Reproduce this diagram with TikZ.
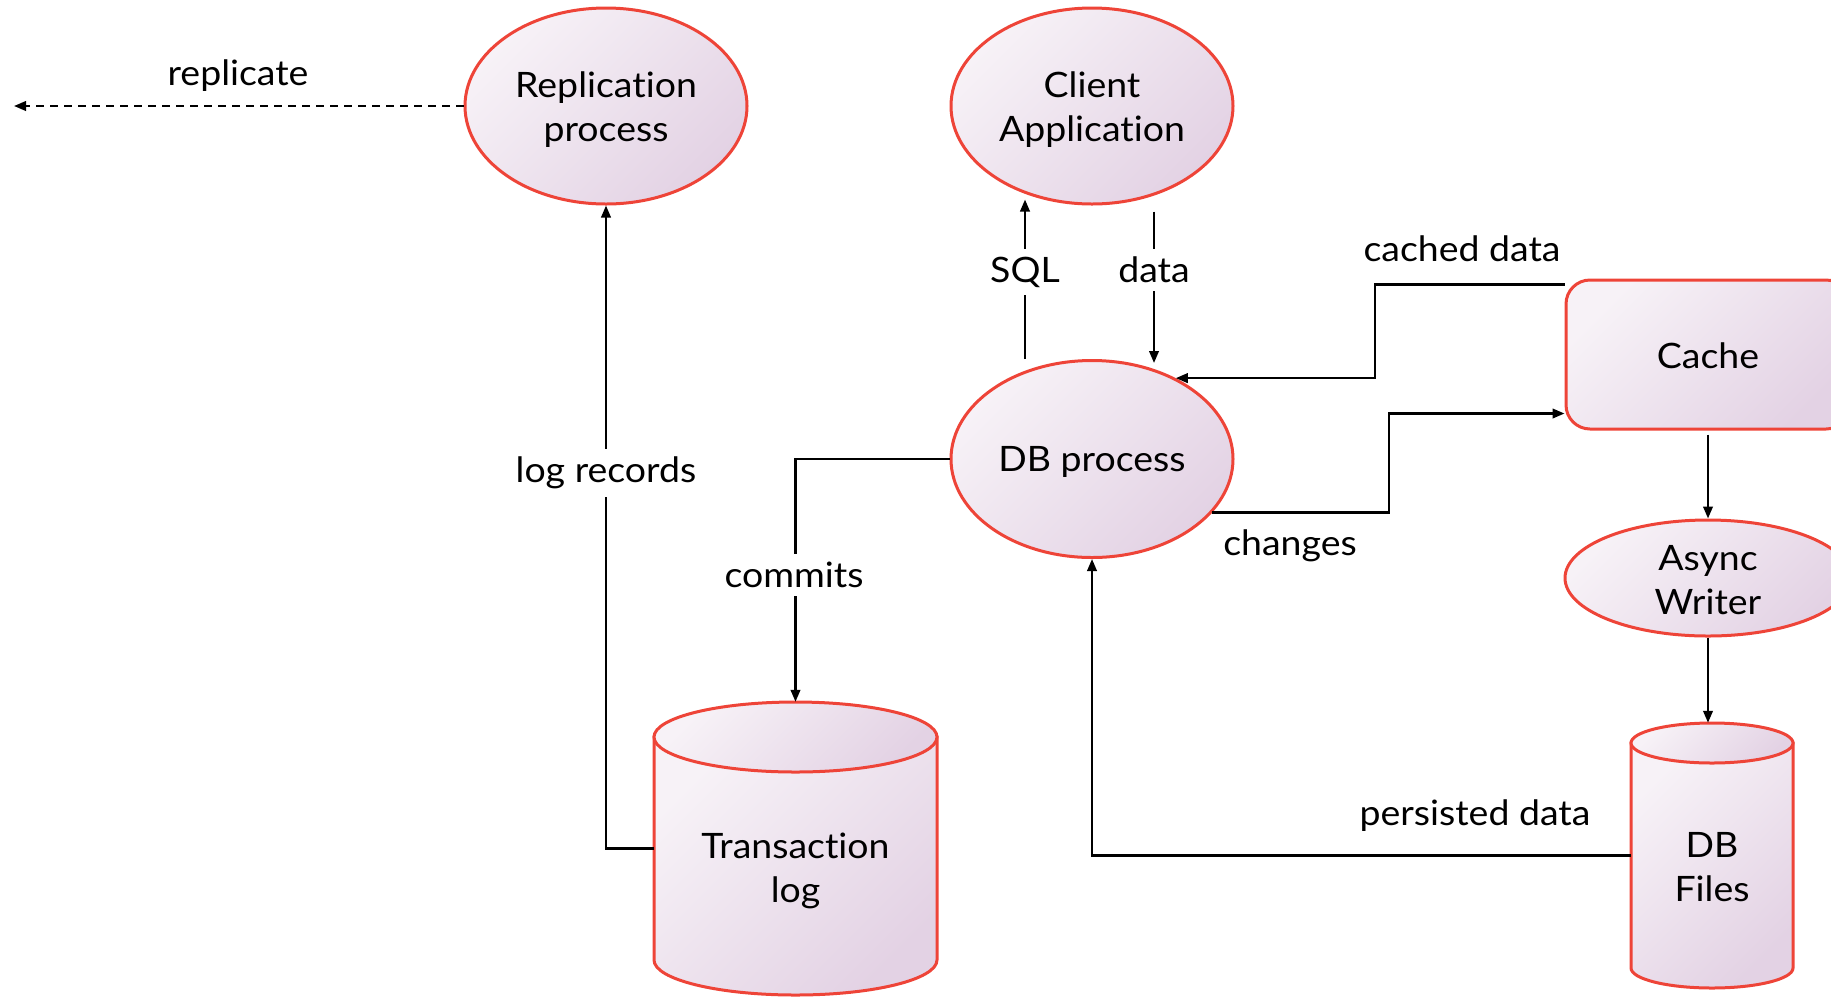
\documentclass[tikz,border=0pt]{standalone}
\usepackage{fontspec}
\setmainfont{Lato}[FakeStretch=1.07, Ligatures=NoCommon]
\usetikzlibrary{shapes.geometric,arrows.meta,calc}
\definecolor{edgered}{RGB}{238,68,56}
\definecolor{filllight}{RGB}{247,242,247}
\definecolor{filldark}{RGB}{227,210,228}
\begin{document}
\begin{tikzpicture}[x=1pt,y=-1pt,
  every node/.style={font=\fontsize{35}{44}\selectfont, text=black},
  shadefill/.style={top color=filllight, bottom color=filldark, shading angle=45},
  proc/.style={ellipse, draw=edgered, line width=3pt, shadefill, inner sep=0pt},
  store/.style={draw=edgered, line width=3pt, shadefill},
  bound/.style={inner sep=0pt, draw=none},
  conn/.style={line width=2.3pt, draw=black},
  arr/.style={conn, -{Triangle[length=12pt,width=9.5pt]}},
  lbl/.style={inner sep=0pt, align=center},
  onlbl/.style={fill=white, inner xsep=2pt, inner ysep=8pt}
]
\useasboundingbox (0,0) rectangle (1831,997);
\clip (0,0) rectangle (1831,997);

% processes and the cache box
\node[proc, minimum width=282pt, minimum height=196pt] (rep) at (606,106) {};
\node[lbl] (reptext) at (606,110) {Replication\\process};
\node[proc, minimum width=282pt, minimum height=196pt] (client) at (1092,106) {};
\node[lbl] (clienttext) at (1092,110) {Client\\Application};
\node[proc, minimum width=282pt, minimum height=197pt] (db) at (1092,459) {};
\node[lbl] (dbtext) at (1092,462) {DB process};
\node[draw=edgered, line width=3pt, shadefill, rounded corners=24pt, minimum width=284pt, minimum height=149pt, inner sep=0pt] (cache) at (1708,354.5) {};
\node[lbl] (cachetext) at (1708,356) {Cache};
\node[proc, minimum width=286pt, minimum height=116pt] (async) at (1708,578) {};
\node[lbl] (asynctext) at (1708,580) {Async\\Writer};

% transaction log cylinder
\path[store] (654,737) -- (654,960) arc[start angle=180, end angle=0, x radius=141.5, y radius=35] -- (937,737) -- cycle;
\path[store] (795.5,737) ellipse [x radius=141.5, y radius=35];
\node[bound, minimum width=283pt, minimum height=293pt] (tlog) at (795.5,848.5) {};
\node[lbl] (tlogtext) at (795.5,871) {Transaction\\log};

% database files cylinder
\path[store] (1631,743) -- (1631,968) arc[start angle=180, end angle=0, x radius=81, y radius=20] -- (1793,743) -- cycle;
\path[store] (1712,743) ellipse [x radius=81, y radius=20];
\node[bound, minimum width=162pt, minimum height=265pt] (dbf) at (1712,855.5) {};
\node[lbl] (dbftext) at (1712,867) {DB\\Files};

% bend points and free ends
\coordinate (repl) at (14,106);
\coordinate (cdbend) at (1375,0);
\coordinate (chbend) at (1389,0);
\coordinate (cacheA) at ($(cache.north west)+(0,6)$);
\coordinate (cacheB) at ($(cache.south west)+(0,-17)$);
\coordinate (sqlA) at ($(db.north)+(-67,0)$);
\coordinate (sqlB) at ($(client.south)+(-67,-6)$);
\coordinate (dataA) at ($(client.south)+(62,6)$);
\coordinate (dataB) at ($(db.north)+(62,4)$);

% connectors
\draw[arr, dash pattern=on 8pt off 6pt] (rep.west) -- (repl);
\draw[arr] (tlog.west) -| (rep.south);
\draw[arr] (db.west) -| (tlog.north);
\draw[arr] (sqlA) -- (sqlB);
\draw[arr] (dataA) -- (dataB);
\draw[arr] (cacheA) -| (cdbend |- db.44) -- (db.44);
\draw[arr] (db.-24) -| (chbend |- cacheB) -- (cacheB);
\draw[arr, shorten <=4pt] (cache.south) -- (async.north);
\draw[arr] (async.south) -- (async.south |- dbf.north);
\draw[arr] (dbf.west) -| (db.south);

% labels
\node[lbl] (lrepl) at (238,76) {replicate};
\node[lbl, onlbl] (llog) at (606,473) {log records};
\node[lbl, onlbl] (lcommit) at (794,575) {commits};
\node[lbl, onlbl] (lsql) at (1025,272) {SQL};
\node[lbl, onlbl] (ldata) at (1154,270) {data};
\node[lbl] (lcached) at (1462,249) {cached data};
\node[lbl] (lchanges) at (1290,546) {changes};
\node[lbl] (lpersist) at (1475,816) {persisted data};
\end{tikzpicture}
\end{document}
